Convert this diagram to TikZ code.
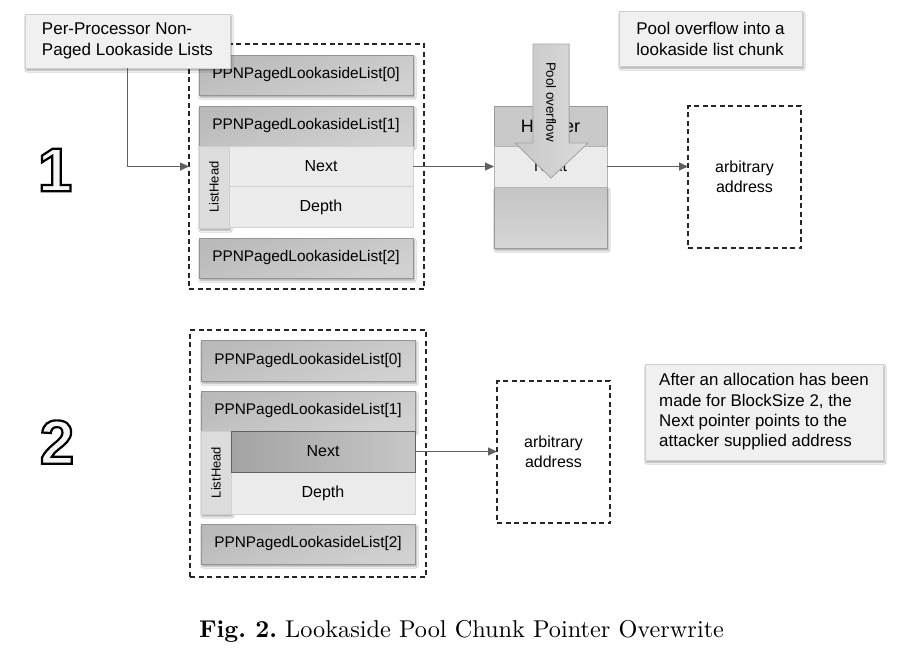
\documentclass[tikz,border=0pt]{standalone}
\usepackage{fontspec}
\newfontfamily\arial{Liberation Sans}
\newfontfamily\capfont{lmroman10}[Extension=.otf,UprightFont=*-regular,BoldFont=*-bold]
\usetikzlibrary{arrows.meta,shadows.blur,calc}
\definecolor{calloutfill}{HTML}{F0F0F0}
\definecolor{calloutdraw}{HTML}{CFCFCF}
\definecolor{lightcell}{HTML}{EBEBEB}
\definecolor{lhcell}{HTML}{DCDCDC}
\definecolor{conncol}{HTML}{5F5F5F}
\tikzset{
  boxshadow/.style={blur shadow={shadow blur steps=6,shadow xshift=1.5pt,shadow yshift=-2.5pt,shadow opacity=35}},
  ppn/.style={draw=black!42,line width=0.8pt,shading=axis,top color=black!27,bottom color=black!18,shading angle=20,
    minimum width=214pt,minimum height=40pt,inner sep=0pt,outer sep=0pt,
    font=\arial\fontsize{15.4}{18}\selectfont,boxshadow},
  cell/.style={draw=black!18,line width=0.6pt,fill=lightcell,minimum width=184pt,minimum height=40pt,
    inner sep=0pt,outer sep=0pt,font=\arial\fontsize{16}{19}\selectfont},
  darkcell/.style={draw=black!62,line width=0.8pt,left color=black!36,right color=black!22,minimum width=184pt,
    minimum height=41pt,inner sep=0pt,outer sep=0pt,font=\arial\fontsize{16}{19}\selectfont},
  lhcol/.style={draw=black!20,line width=0.6pt,fill=lhcell,minimum width=30pt,inner sep=0pt,outer sep=0pt},
  lhtext/.style={rotate=90,font=\arial\fontsize{13}{15}\selectfont},
  dashbox/.style={draw=black!85,line width=1.3pt,dash pattern=on 5pt off 3.5pt,inner sep=0pt,outer sep=0pt},
  addrbox/.style={dashbox,minimum width=113pt,minimum height=142pt,align=center,
    font=\arial\fontsize{16}{20}\selectfont},
  callout/.style={draw=calloutdraw,line width=0.8pt,fill=calloutfill,boxshadow,align=left,
    font=\arial\fontsize{17}{21}\selectfont,inner sep=0pt,outer sep=0pt},
  conn/.style={draw=conncol,line width=1pt,-{Triangle[length=9pt,width=8pt]}},
  digit/.style={font=\arial\bfseries\fontsize{62}{66}\selectfont,inner sep=0pt},
}
\newcommand{\outlinetext}[1]{\special{pdf:literal direct 2 Tr 2.2 w 0.96 g 0 G}#1\special{pdf:literal direct 0 Tr}}
\begin{document}
\begin{tikzpicture}[x=1pt,y=-1pt]
\useasboundingbox (0,0) rectangle (898,657);
\fill[white] (0,0) rectangle (898,657);

% ---------------- Panel 1 ----------------
\node[dashbox,minimum width=235pt,minimum height=245pt] (d1) at (306.5,166.5) {};
\node[ppn] (p10) at (306,75) {PPNPagedLookasideList[0]};
\node[ppn] (p11) at (306,126) {PPNPagedLookasideList[1]};
\node[lhcol,minimum height=82pt,boxshadow] (lh1) at (214,187) {};
\node[lhtext] (lh1t) at (lh1.center) {ListHead};
\node[cell] (n1) at (321,166.5) {Next};
\node[cell,minimum height=41pt] (dp1) at (321,207) {Depth};
\node[ppn] (p12) at (306,258) {PPNPagedLookasideList[2]};

\node[callout,minimum width=205pt,minimum height=54pt] (c1) at (127.5,41)
  {Per-Processor Non-\\Paged Lookaside Lists};
\draw[conn] (c1.south) |- (d1.west);

\node[digit] (one) at (55,170) {\outlinetext{1}};

% chunk
\node[draw=black!40,line width=0.8pt,top color=black!23,bottom color=black!16,minimum width=113pt,minimum height=61pt,
  inner sep=0pt,outer sep=0pt,boxshadow] (cb) at (550.5,217.5) {};
\node[draw=black!40,line width=0.8pt,fill=black!21,minimum width=113pt,minimum height=40pt,inner sep=0pt,outer sep=0pt,
  font=\arial\fontsize{18}{21}\selectfont] (hdr) at (550.5,126) {Header};
\node[draw=black!30,line width=0.6pt,fill=lightcell,minimum width=113pt,minimum height=41pt,inner sep=0pt,outer sep=0pt,
  font=\arial\fontsize{16}{19}\selectfont] (cn) at (550.5,166.5) {Next};

% big arrow
\filldraw[draw=black!35,line width=0.8pt,left color=black!22,right color=black!14]
  (533,44) -- (569,44) -- (569,143) -- (588,143) -- (551,178) -- (515,143) -- (533,143) -- cycle;
\node[rotate=-90,font=\arial\fontsize{13.3}{15}\selectfont,inner sep=0pt] (po) at (551,102) {Pool overflow};

\draw[conn] (n1.east) -- (cn.west);
\node[addrbox] (a1) at (744.5,177) {arbitrary\\address};
\draw[conn] (cn.east) -- (cn.east -| a1.west);

\node[callout,minimum width=183pt,minimum height=55pt] (c2) at (710.5,38.5)
  {Pool overflow into a\\lookaside list chunk};

% ---------------- Panel 2 ----------------
\node[dashbox,minimum width=236pt,minimum height=247pt] (d2) at (308,453.5) {};
\node[ppn,minimum height=41pt] (p20) at (308,360.5) {PPNPagedLookasideList[0]};
\node[ppn] (p21) at (308,411) {PPNPagedLookasideList[1]};
\node[lhcol,minimum height=83pt,boxshadow] (lh2) at (216,472.5) {};
\node[lhtext] (lh2t) at (lh2.center) {ListHead};
\node[cell,minimum height=42pt] (dp2) at (323,493) {Depth};
\node[darkcell] (n2) at (323,451.5) {Next};
\node[ppn] (p22) at (308,544) {PPNPagedLookasideList[2]};

\node[digit] (two) at (57,442) {\outlinetext{2}};

\node[addrbox] (a2) at (553.5,452) {arbitrary\\address};
\draw[conn] (n2.east) -- (n2.east -| a2.west);

\node[callout,minimum width=238pt,minimum height=96pt,
  font=\arial\fontsize{16.9}{20.4}\selectfont] (c3) at (764,412)
  {After an allocation has been\\made for BlockSize 2, the\\Next pointer points to the\\attacker supplied address};

% caption
\node[font=\capfont\fontsize{24.3}{28}\selectfont\frenchspacing,inner sep=0pt] (cap) at (461.5,631)
  {\textbf{Fig. 2.} Lookaside Pool Chunk Pointer Overwrite};
\end{tikzpicture}
\end{document}
